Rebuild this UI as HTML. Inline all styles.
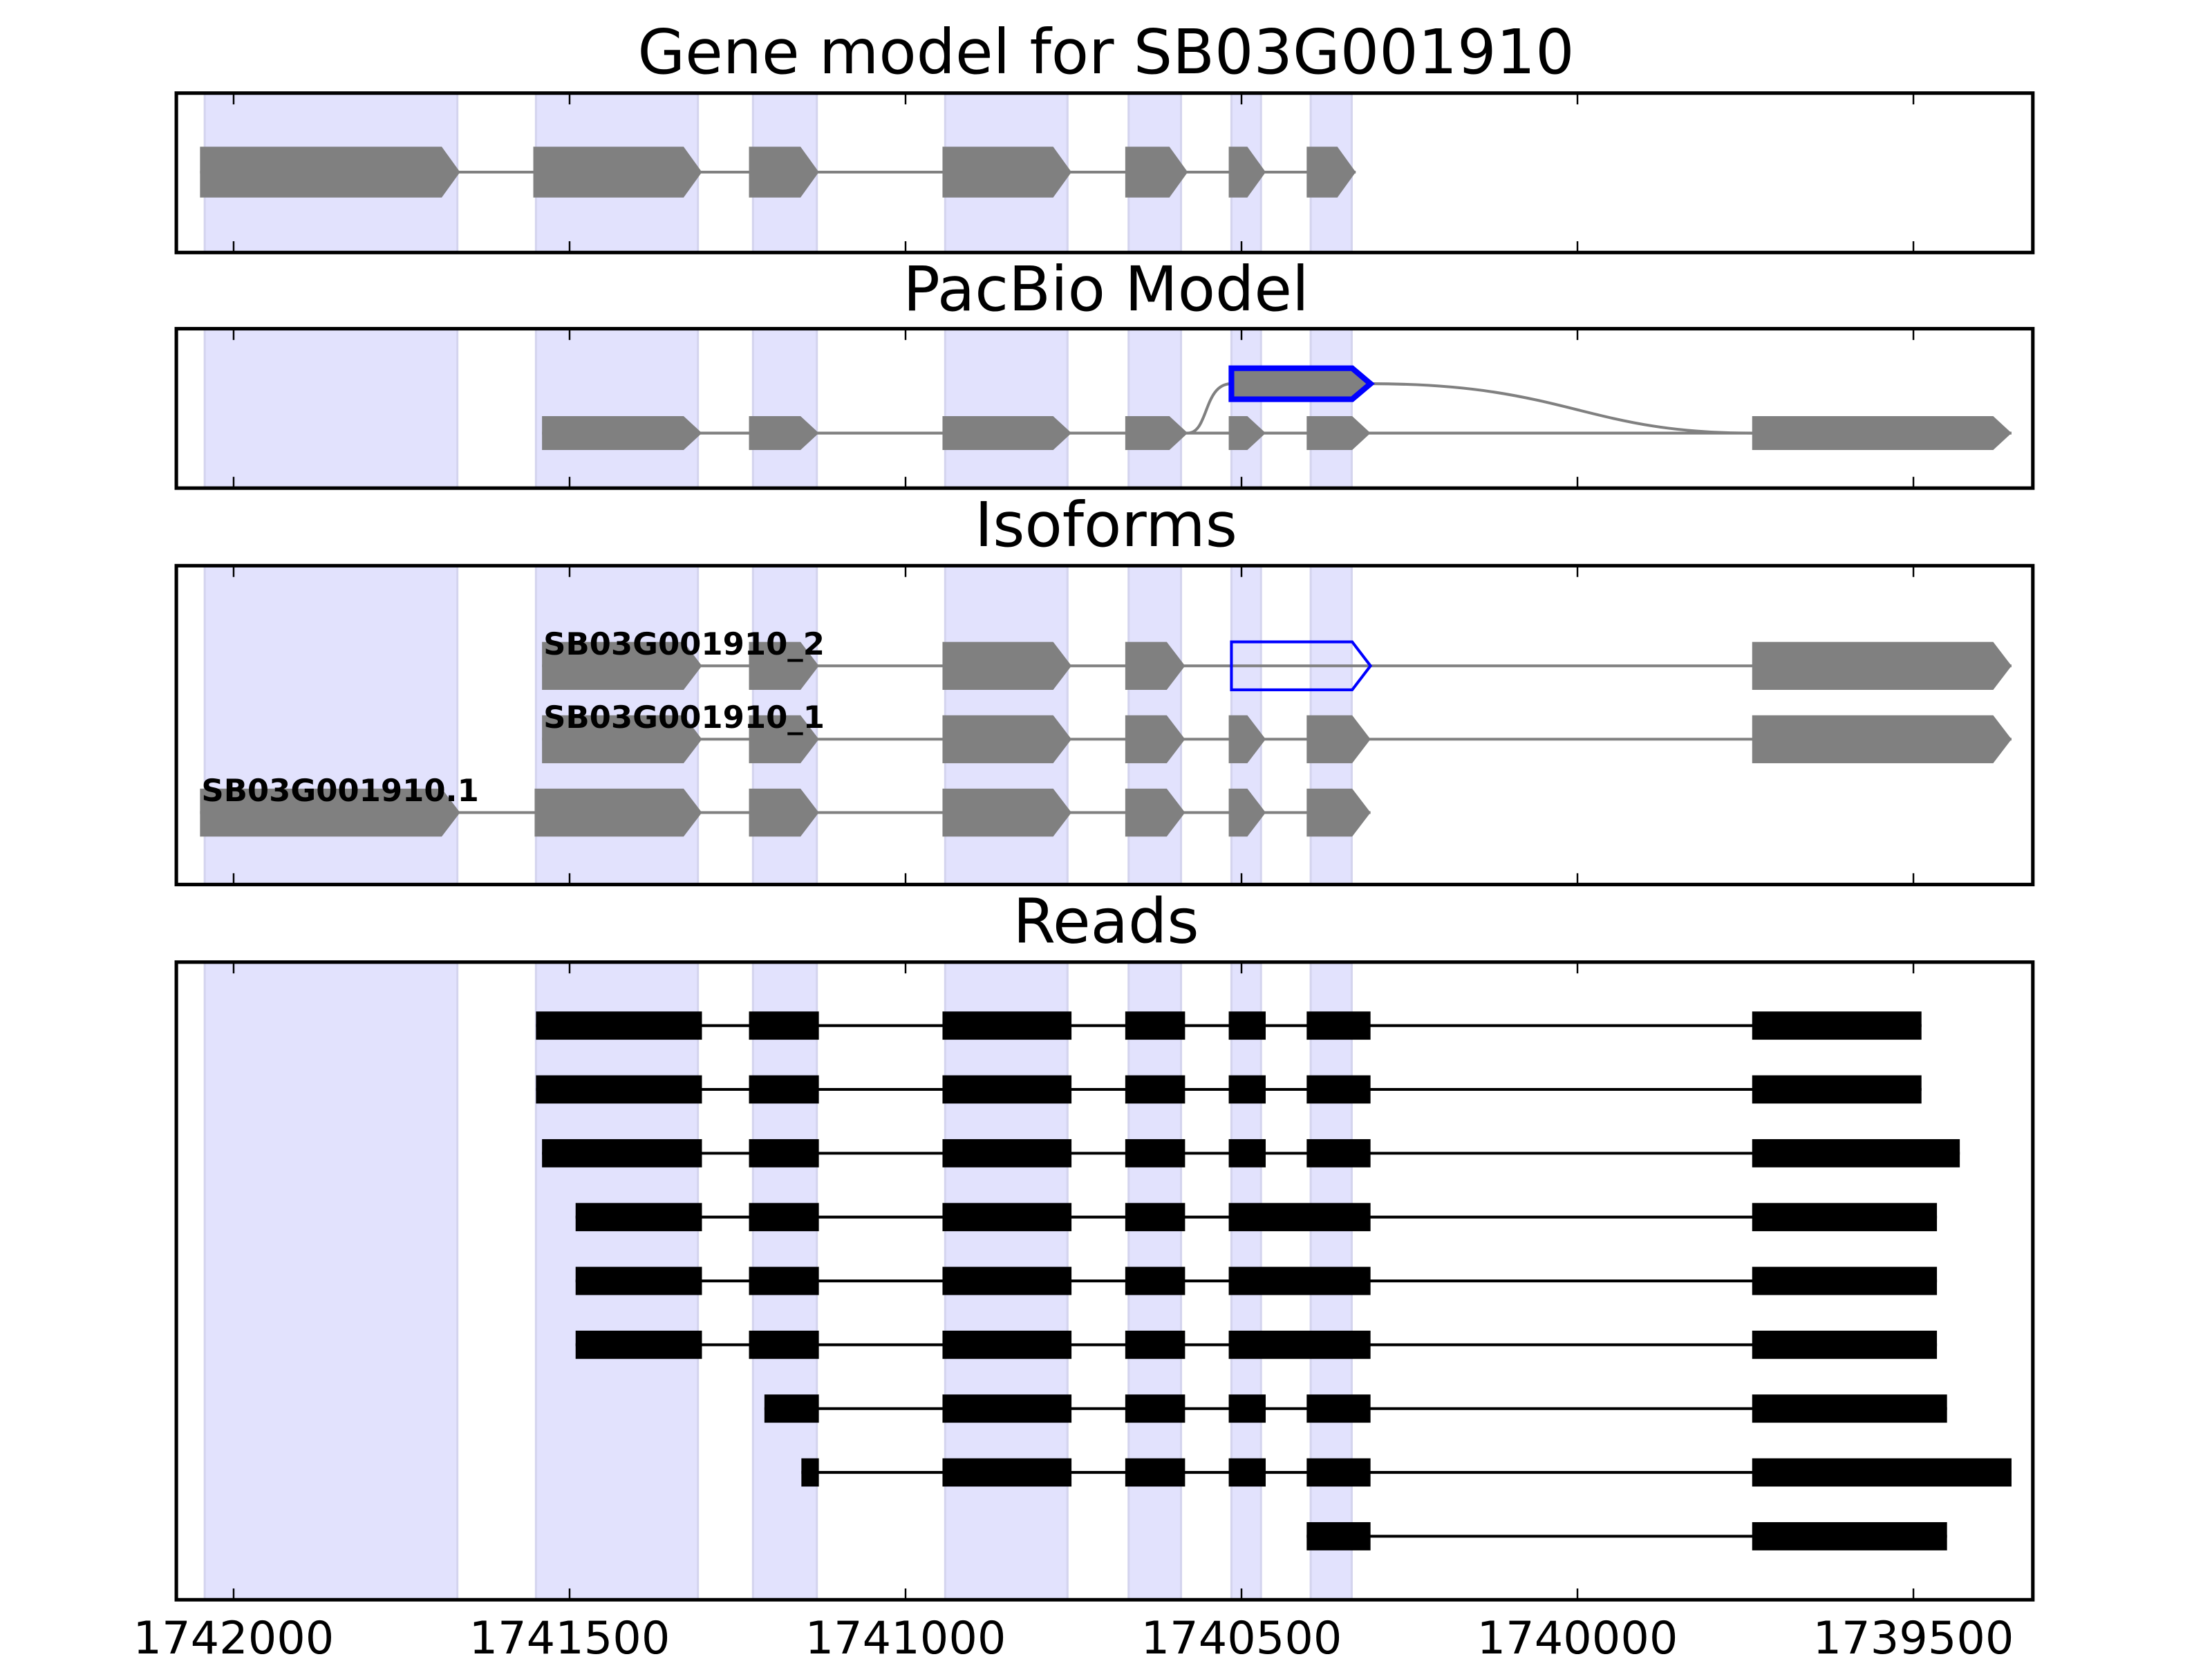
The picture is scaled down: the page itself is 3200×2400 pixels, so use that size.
<!DOCTYPE html>
<html><head><meta charset="utf-8"><style>
html,body{margin:0;padding:0;background:#fff}
svg{display:block}
text{font-family:"DejaVu Sans","Liberation Sans",sans-serif}
</style></head><body>
<svg id="chart" xmlns="http://www.w3.org/2000/svg" width="3200" height="2400" viewBox="0 0 1568 1176"></svg>
<script>
const tickValues = [1742000, 1741500, 1741000, 1740500, 1740000, 1739500];
const tickLabels = ["1742000", "1741500", "1741000", "1740500", "1740000", "1739500"];
const shadeRegions = [[1742043,1741667],[1741550,1741309],[1741227,1741132],[1740941,1740759],[1740668,1740590],[1740515,1740471],[1740397,1740336]];
const geneModelExons = [[1742050,1741663],[1741554,1741303],[1741233,1741129],[1740945,1740753],[1740673,1740580],[1740519,1740464],[1740403,1740330]];
const pacbioExons = [[1741541,1741303],[1741233,1741129],[1740945,1740753],[1740673,1740580],[1740519,1740464],[1740403,1740308],[1739740,1739354]];
const pacbioHighlight = [1740515,1740308];
const isoformNames = ["SB03G001910_2","SB03G001910_1","SB03G001910.1"];
const isoformExons = [
  [[1741541,1741303],[1741233,1741129],[1740945,1740753],[1740673,1740584],[1740515,1740308,"hl"],[1739740,1739354]],
  [[1741541,1741303],[1741233,1741129],[1740945,1740753],[1740673,1740584],[1740519,1740464],[1740403,1740308],[1739740,1739354]],
  [[1742050,1741663],[1741552,1741303],[1741233,1741129],[1740945,1740753],[1740673,1740584],[1740519,1740464],[1740403,1740308]]
];
const readExons = [
  [[1741550,1741303],[1741233,1741129],[1740945,1740753],[1740673,1740584],[1740519,1740464],[1740403,1740308],[1739740,1739488]],
  [[1741550,1741303],[1741233,1741129],[1740945,1740753],[1740673,1740584],[1740519,1740464],[1740403,1740308],[1739740,1739488]],
  [[1741541,1741303],[1741233,1741129],[1740945,1740753],[1740673,1740584],[1740519,1740464],[1740403,1740308],[1739740,1739431]],
  [[1741491,1741303],[1741233,1741129],[1740945,1740753],[1740673,1740584],[1740519,1740308],[1739740,1739465]],
  [[1741491,1741303],[1741233,1741129],[1740945,1740753],[1740673,1740584],[1740519,1740308],[1739740,1739465]],
  [[1741491,1741303],[1741233,1741129],[1740945,1740753],[1740673,1740584],[1740519,1740308],[1739740,1739465]],
  [[1741210,1741129],[1740945,1740753],[1740673,1740584],[1740519,1740464],[1740403,1740308],[1739740,1739450]],
  [[1741155,1741129],[1740945,1740753],[1740673,1740584],[1740519,1740464],[1740403,1740308],[1739740,1739354]],
  [[1740403,1740308],[1739740,1739450]]
];

const svg = document.getElementById('chart');
const NS = 'http://www.w3.org/2000/svg';
const L = 125, R = 1441;
function x(v){ return 165.6 + (1742000 - v) * 0.4763; }
function mk(tag, attrs, parent){
  const e = document.createElementNS(NS, tag);
  for (const k in attrs) e.setAttribute(k, attrs[k]);
  (parent || svg).appendChild(e);
  return e;
}
function arrowPts(a, b, yc, h){
  const x1 = x(a), x2 = x(b), tip = Math.min(13, (x2 - x1) * 0.6), hh = h / 2;
  return `${x1},${yc-hh} ${x2-tip},${yc-hh} ${x2},${yc} ${x2-tip},${yc+hh} ${x1},${yc+hh}`;
}
function panel(name, title, top, bottom, titleY){
  const g = mk('g', {});
  
  
  const t = mk('text', {x: 784, y: titleY, 'text-anchor': 'middle', 'font-size': 43.5, fill: '#000'}, g);
  t.textContent = title;
  
  
  shadeRegions.forEach(r => {
    const s = mk('rect', {x: x(r[0]), y: top, width: x(r[1]) - x(r[0]), height: bottom - top, fill: '#e2e2fd', stroke: '#d4d4ee', 'stroke-width': 1.5}, g);
    
    
  });
  const content = mk('g', {}, g);
  const frame = mk('g', {}, g);
  tickValues.forEach(v => {
    mk('line', {x1: x(v), x2: x(v), y1: top, y2: top + 8, stroke: '#000', 'stroke-width': 1.2}, frame);
    mk('line', {x1: x(v), x2: x(v), y1: bottom, y2: bottom - 8, stroke: '#000', 'stroke-width': 1.2}, frame);
  });
  const b = mk('rect', {x: L, y: top, width: R - L, height: bottom - top, fill: 'none', stroke: '#000', 'stroke-width': 2.5}, frame);
  
  
  return content;
}
function geneRow(g, exons, yc, h, stroke){
  const first = x(exons[0][0]), last = x(exons[exons.length-1][1]);
  mk('line', {x1: first, x2: last, y1: yc, y2: yc, stroke: stroke, 'stroke-width': 2}, g);
  exons.forEach(e => {
    const p = mk('polygon', {points: arrowPts(e[0], e[1], yc, h), fill: '#808080'}, g);
    if (e[2] === 'hl') { p.setAttribute('fill', 'none'); p.setAttribute('stroke', '#0000ff'); p.setAttribute('stroke-width', 2); }
    
    
  });
}

const p1 = panel('gene-model-panel', 'Gene model for SB03G001910', 66, 179, 52);
geneRow(p1, geneModelExons, 122, 36, '#808080');

const p2 = panel('pacbio-model-panel', 'PacBio Model', 233, 346, 220);
{
  const yA = 272, yB = 307;
  const hx1 = x(pacbioHighlight[0]), hx2 = x(pacbioHighlight[1]);
  const c1s = x(pacbioExons[3][1]);
  mk('path', {d: `M${c1s},${yB} C${c1s+15},${yB} ${hx1-20},${yA} ${hx1},${yA}`, fill: 'none', stroke: '#808080', 'stroke-width': 2}, p2);
  const e7 = x(pacbioExons[6][0]);
  mk('path', {d: `M${hx2},${yA} C${hx2+140},${yA} ${e7-120},${yB} ${e7},${yB}`, fill: 'none', stroke: '#808080', 'stroke-width': 2}, p2);
  geneRow(p2, pacbioExons, yB, 24, '#808080');
  const hp = mk('polygon', {points: arrowPts(pacbioHighlight[0], pacbioHighlight[1], yA, 22), fill: '#808080', stroke: '#0000ff', 'stroke-width': 4}, p2);
  
  
}

const p3 = panel('isoforms-panel', 'Isoforms', 401, 627, 387);
const isoY = [472, 524, 576];
isoformExons.forEach((ex, i) => {
  geneRow(p3, ex, isoY[i], 34, '#808080');
  const t = mk('text', {x: x(ex[0][0]) + 1, y: isoY[i] - 8, 'font-size': 22, 'font-weight': 'bold', fill: '#000'}, p3);
  t.textContent = isoformNames[i];
  
  
});

const p4 = panel('reads-panel', 'Reads', 682, 1134, 668);
readExons.forEach((ex, i) => {
  const yc = 727 + i * 45.25;
  const g = mk('g', {}, p4);
  
  
  mk('line', {x1: x(ex[0][0]), x2: x(ex[ex.length-1][1]), y1: yc, y2: yc, stroke: '#000', 'stroke-width': 2}, g);
  ex.forEach(e => {
    const r = mk('rect', {x: x(e[0]), y: yc - 10, width: x(e[1]) - x(e[0]), height: 20, fill: '#000'}, g);
    
    
  });
});

tickValues.forEach((v, i) => {
  const t = mk('text', {x: x(v), y: 1172, 'text-anchor': 'middle', 'font-size': 32, fill: '#000'});
  t.textContent = tickLabels[i];
  
  
});
</script>
</body></html>
